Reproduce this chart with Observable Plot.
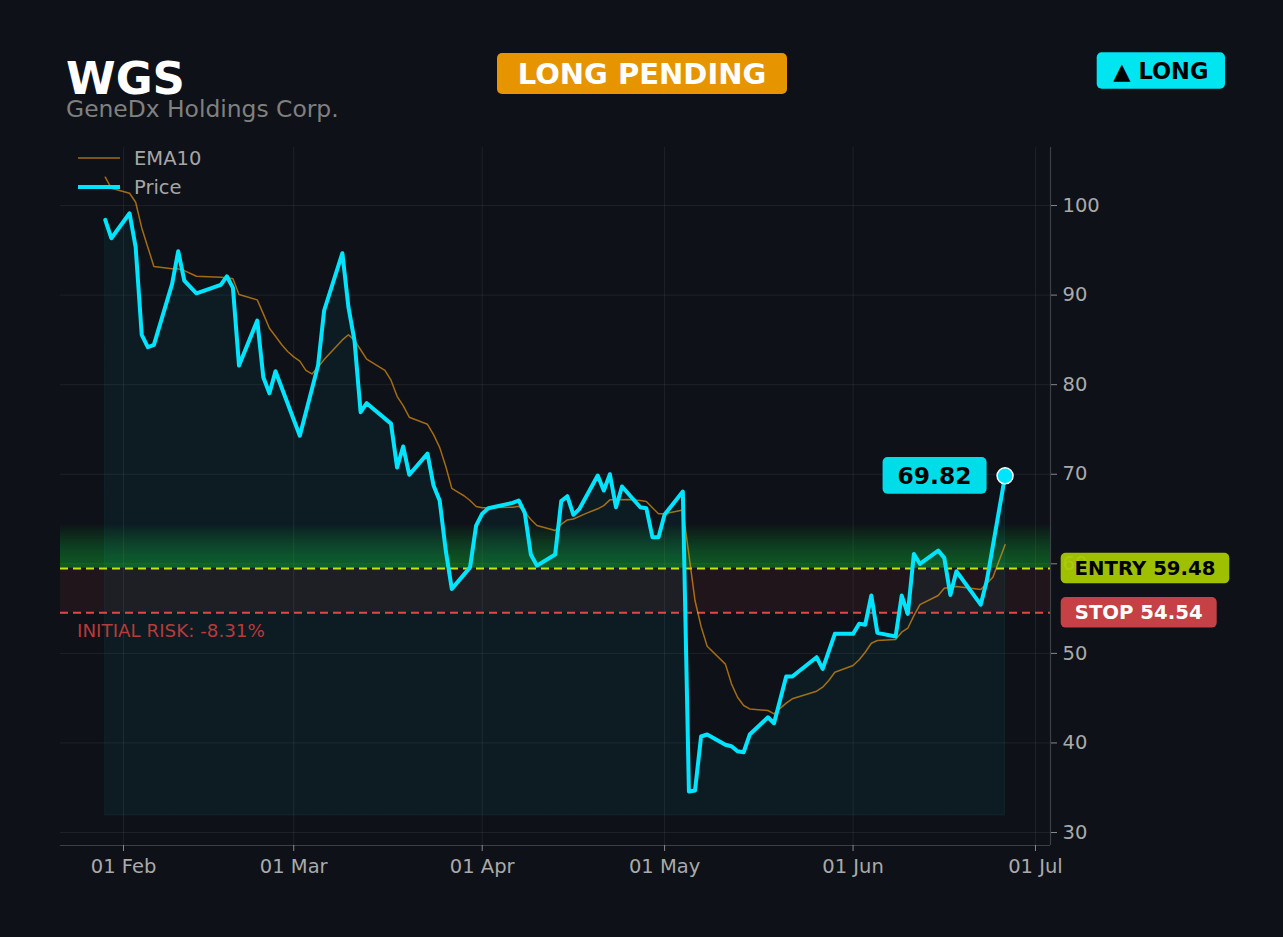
<!DOCTYPE html>
<html><head><meta charset="utf-8">
<script src="https://cdn.jsdelivr.net/npm/d3@7"></script>
<script src="https://cdn.jsdelivr.net/npm/@observablehq/plot@0.6"></script>
<style>
html,body{margin:0;padding:0;background:#0e1117;}
#chart{width:1283px;height:937px;}
svg{font-family:"DejaVu Sans",sans-serif;}
</style></head><body><div id="chart"></div>
<script>
const ticker = "WGS";
const company = "GeneDx Holdings Corp.";
const statusLabel = "LONG PENDING";
const directionLabel = "▲ LONG";
const entryPrice = 59.48;
const stopPrice = 54.54;
const initialRisk = "INITIAL RISK: -8.31%";
const areaFloor = 31.9;
const greenBandHeight = 4.8;

const priceDates = [
  "2025-01-29","2025-01-30","2025-02-02","2025-02-03","2025-02-04","2025-02-05","2025-02-06","2025-02-09","2025-02-10","2025-02-11",
  "2025-02-13","2025-02-17","2025-02-18","2025-02-19","2025-02-20","2025-02-23","2025-02-24","2025-02-25","2025-02-26","2025-03-02",
  "2025-03-05","2025-03-06","2025-03-09","2025-03-10","2025-03-11","2025-03-12","2025-03-13","2025-03-17","2025-03-18","2025-03-19",
  "2025-03-20","2025-03-23","2025-03-24","2025-03-25","2025-03-26","2025-03-27","2025-03-30","2025-03-31","2025-04-01","2025-04-02",
  "2025-04-06","2025-04-07","2025-04-08","2025-04-09","2025-04-10","2025-04-13","2025-04-14","2025-04-15","2025-04-16","2025-04-17",
  "2025-04-20","2025-04-21","2025-04-22","2025-04-23","2025-04-24","2025-04-27","2025-04-28","2025-04-29","2025-04-30","2025-05-01",
  "2025-05-04","2025-05-05","2025-05-06","2025-05-07","2025-05-08","2025-05-11","2025-05-12","2025-05-13","2025-05-14","2025-05-15",
  "2025-05-18","2025-05-19","2025-05-21","2025-05-22","2025-05-26","2025-05-27","2025-05-29","2025-06-01","2025-06-02","2025-06-03",
  "2025-06-04","2025-06-05","2025-06-08","2025-06-09","2025-06-10","2025-06-11","2025-06-12","2025-06-15","2025-06-16","2025-06-17",
  "2025-06-18","2025-06-22","2025-06-23","2025-06-26"
];
const priceValues = [
  98.4, 96.35, 99.14, 95.35, 85.56, 84.18, 84.45, 91.26, 94.9, 91.63,
  90.2, 91.14, 92.1, 90.8, 82.14, 87.16, 80.83, 79.05, 81.5, 74.3,
  82.14, 88.28, 94.68, 88.65, 84.9, 76.93, 77.93, 75.65, 70.75, 73.1,
  69.95, 72.3, 68.74, 67.08, 61.5, 57.2, 59.6, 64.27, 65.6, 66.2,
  66.8, 67.07, 65.7, 61.04, 59.8, 61.04, 67.0, 67.55, 65.47, 66.14,
  69.86, 68.18, 70.0, 66.32, 68.63, 66.32, 66.2, 62.97, 62.97, 65.5,
  68.07, 34.57, 34.69, 40.72, 40.94, 39.8, 39.63, 39.07, 38.96, 40.94,
  42.87, 42.2, 47.42, 47.42, 49.57, 48.27, 52.18, 52.18, 53.3, 53.2,
  56.46, 52.29, 51.88, 56.46, 54.41, 61.1, 59.98, 61.47, 60.66, 56.53,
  59.17, 55.45, 58.13, 69.82
];
const emaDates = [
  "2025-01-29","2025-01-30","2025-02-02","2025-02-03","2025-02-04","2025-02-05","2025-02-06","2025-02-09","2025-02-10","2025-02-11",
  "2025-02-13","2025-02-17","2025-02-18","2025-02-19","2025-02-20","2025-02-23","2025-02-24","2025-02-25","2025-02-26","2025-02-27",
  "2025-02-28","2025-03-01","2025-03-02","2025-03-03","2025-03-04","2025-03-05","2025-03-06","2025-03-09","2025-03-10","2025-03-11",
  "2025-03-12","2025-03-13","2025-03-16","2025-03-17","2025-03-18","2025-03-19","2025-03-20","2025-03-23","2025-03-24","2025-03-25",
  "2025-03-26","2025-03-27","2025-03-28","2025-03-29","2025-03-30","2025-03-31","2025-04-01","2025-04-02","2025-04-06","2025-04-07",
  "2025-04-08","2025-04-09","2025-04-10","2025-04-13","2025-04-14","2025-04-15","2025-04-16","2025-04-18","2025-04-20","2025-04-21",
  "2025-04-22","2025-04-23","2025-04-25","2025-04-27","2025-04-28","2025-04-29","2025-04-30","2025-05-01","2025-05-04","2025-05-05",
  "2025-05-06","2025-05-07","2025-05-08","2025-05-11","2025-05-12","2025-05-13","2025-05-14","2025-05-15","2025-05-18","2025-05-19",
  "2025-05-21","2025-05-22","2025-05-26","2025-05-27","2025-05-28","2025-05-29","2025-06-01","2025-06-02","2025-06-03","2025-06-04",
  "2025-06-05","2025-06-08","2025-06-09","2025-06-10","2025-06-11","2025-06-12","2025-06-15","2025-06-16","2025-06-17","2025-06-18",
  "2025-06-22","2025-06-24","2025-06-26"
];
const emaValues = [
  103.16, 101.93, 101.37, 100.37, 97.5, 95.35, 93.19, 92.95, 92.93, 92.74,
  92.1, 91.99, 91.95, 91.82, 90.06, 89.47, 87.9, 86.3, 85.4, 84.48,
  83.7, 83.1, 82.62, 81.6, 81.2, 81.95, 82.8, 85.0, 85.58, 84.95,
  83.9, 82.85, 81.6, 80.5, 78.7, 77.67, 76.37, 75.58, 74.43, 73.0,
  70.9, 68.42, 68.0, 67.6, 67.07, 66.4, 66.25, 66.25, 66.32, 66.43,
  65.8, 64.95, 64.27, 63.72, 64.4, 64.9, 65.0, 65.6, 66.14, 66.5,
  67.14, 67.14, 67.18, 67.07, 66.95, 66.25, 65.58, 65.58, 66.0, 61.0,
  55.9, 53.0, 50.8, 48.8, 46.6, 45.1, 44.18, 43.8, 43.62, 43.25,
  44.44, 44.93, 45.78, 46.23, 46.97, 47.9, 48.64, 49.28, 50.13, 51.13,
  51.44, 51.55, 52.36, 52.81, 54.22, 55.45, 56.46, 57.27, 57.38, 57.46,
  57.13, 58.5, 62.12
];
const yTicks = [30, 40, 50, 60, 70, 80, 90, 100];
const xTickDates = ["2025-02-01","2025-03-01","2025-04-01","2025-05-01","2025-06-01","2025-07-01"];
const xDomain = ["2025-01-21T15:20Z", "2025-07-03T11:20Z"];
const yDomain = [28.55, 106.48];

const price = priceDates.map((d, i) => ({date: new Date(d), value: priceValues[i]}));
const ema = emaDates.map((d, i) => ({date: new Date(d), value: emaValues[i]}));
const xd = xDomain.map(d => new Date(d));
const xt = xTickDates.map(d => new Date(d));
const bandSteps = 20;
const bands = d3.range(1, bandSteps + 1).map(i => ({y1: entryPrice, y2: entryPrice + greenBandHeight * i / bandSteps}));
const last = price[price.length - 1];

const CYAN = "#00e5ff";
const plot = Plot.plot({
  width: 1283, height: 937,
  marginTop: 147, marginBottom: 92, marginLeft: 60, marginRight: 233,
  style: {background: "transparent", color: "#aaaaaa", fontFamily: "DejaVu Sans, sans-serif", fontSize: "19.5px", overflow: "visible"},
  x: {type: "utc", domain: xd},
  y: {domain: yDomain},
  marks: [
    Plot.gridX(xt, {stroke: "#ffffff", strokeOpacity: 0.07}),
    Plot.gridY(yTicks, {stroke: "#ffffff", strokeOpacity: 0.07}),
    Plot.rect(bands, {x1: xd[0], x2: xd[1], y1: "y1", y2: "y2", fill: "#2ecc40", fillOpacity: 0.03}),
    Plot.rect([0], {x1: xd[0], x2: xd[1], y1: stopPrice, y2: entryPrice, fill: "#e04848", fillOpacity: 0.09}),
    Plot.areaY(price, {x: "date", y1: areaFloor, y2: "value", fill: CYAN, fillOpacity: 0.05, stroke: CYAN, strokeOpacity: 0.07, strokeWidth: 1}),
    Plot.ruleY([entryPrice], {stroke: "#c8e600", strokeWidth: 2, strokeDasharray: "8,5"}),
    Plot.ruleY([stopPrice], {stroke: "#e04848", strokeWidth: 2, strokeDasharray: "8,5"}),
    Plot.line(ema, {x: "date", y: "value", stroke: "#f39c12", strokeOpacity: 0.65, strokeWidth: 1.5}),
    Plot.line(price, {x: "date", y: "value", stroke: CYAN, strokeWidth: 4, strokeLinejoin: "round"}),
    Plot.dot([last], {x: "date", y: "value", r: 8, fill: CYAN, stroke: "#ffffff", strokeWidth: 1.5}),
    Plot.ruleX([xd[1]], {stroke: "#3c3f46", strokeWidth: 1.2}),
    Plot.ruleY([yDomain[0]], {stroke: "#3c3f46", strokeWidth: 1.2}),
    Plot.axisX({ticks: xt, tickFormat: d3.utcFormat("%d %b"), tickSize: 6, tickPadding: 8, stroke: "#888"}),
    Plot.axisY({anchor: "right", ticks: yTicks, tickSize: 6, tickPadding: 6, stroke: "#888"})
  ]
});
document.getElementById("chart").appendChild(plot);

const xs = plot.scale("x"), ys = plot.scale("y");
const svg = d3.select(plot);
const CAP = 0.729;

function text(x, y, str, size, fill, weight, anchor) {
  return svg.append("text").attr("x", x).attr("y", y).attr("font-size", size)
    .attr("fill", fill).attr("font-weight", weight || "normal")
    .attr("text-anchor", anchor || "start").text(str);
}
function badge(left, top, w, h, fill, textFill, size, str, opacity) {
  svg.append("rect").attr("x", left).attr("y", top).attr("width", w).attr("height", h)
    .attr("rx", 5).attr("fill", fill).attr("fill-opacity", opacity || 1);
  text(left + w / 2, top + h / 2 + size * CAP / 2, str, size, textFill, "bold", "middle");
}

// header
text(66, 94, ticker, 45, "#ffffff", "bold");
text(66, 116.5, company, 23.4, "#808080");
badge(497, 53, 290, 41, "#e69500", "#ffffff", 29, statusLabel);
badge(1096.7, 52.3, 128.3, 36.4, "#00e5f0", "#000000", 22.5, directionLabel);

// legend
svg.append("line").attr("x1", 78).attr("x2", 120).attr("y1", 158).attr("y2", 158)
  .attr("stroke", "#f39c12").attr("stroke-opacity", 0.65).attr("stroke-width", 1.5);
text(134, 165, "EMA10", 19.5, "#a6a6a6");
svg.append("line").attr("x1", 78).attr("x2", 120).attr("y1", 187).attr("y2", 187)
  .attr("stroke", CYAN).attr("stroke-width", 4);
text(134, 194, "Price", 19.5, "#a6a6a6");

// risk text
text(77, ys.apply(stopPrice) + 24.3, initialRisk, 18.3, "#b83a3c");

// last price label
const px = xs.apply(last.date), py = ys.apply(last.value);
badge(px - 18 - 104, py - 18.3, 104, 36.7, "#00dde8", "#000000", 23.4, last.value.toFixed(2));

// entry / stop labels
const ey = ys.apply(entryPrice), sy = ys.apply(stopPrice);
badge(1060.7, ey - 15.3, 168.6, 30.7, "#aacc00", "#000000", 19.7, "ENTRY " + entryPrice.toFixed(2), 0.93);
badge(1060.7, sy - 15.3, 156, 30.7, "#d04448", "#ffffff", 19.7, "STOP " + stopPrice.toFixed(2), 0.95);
</script></body></html>
